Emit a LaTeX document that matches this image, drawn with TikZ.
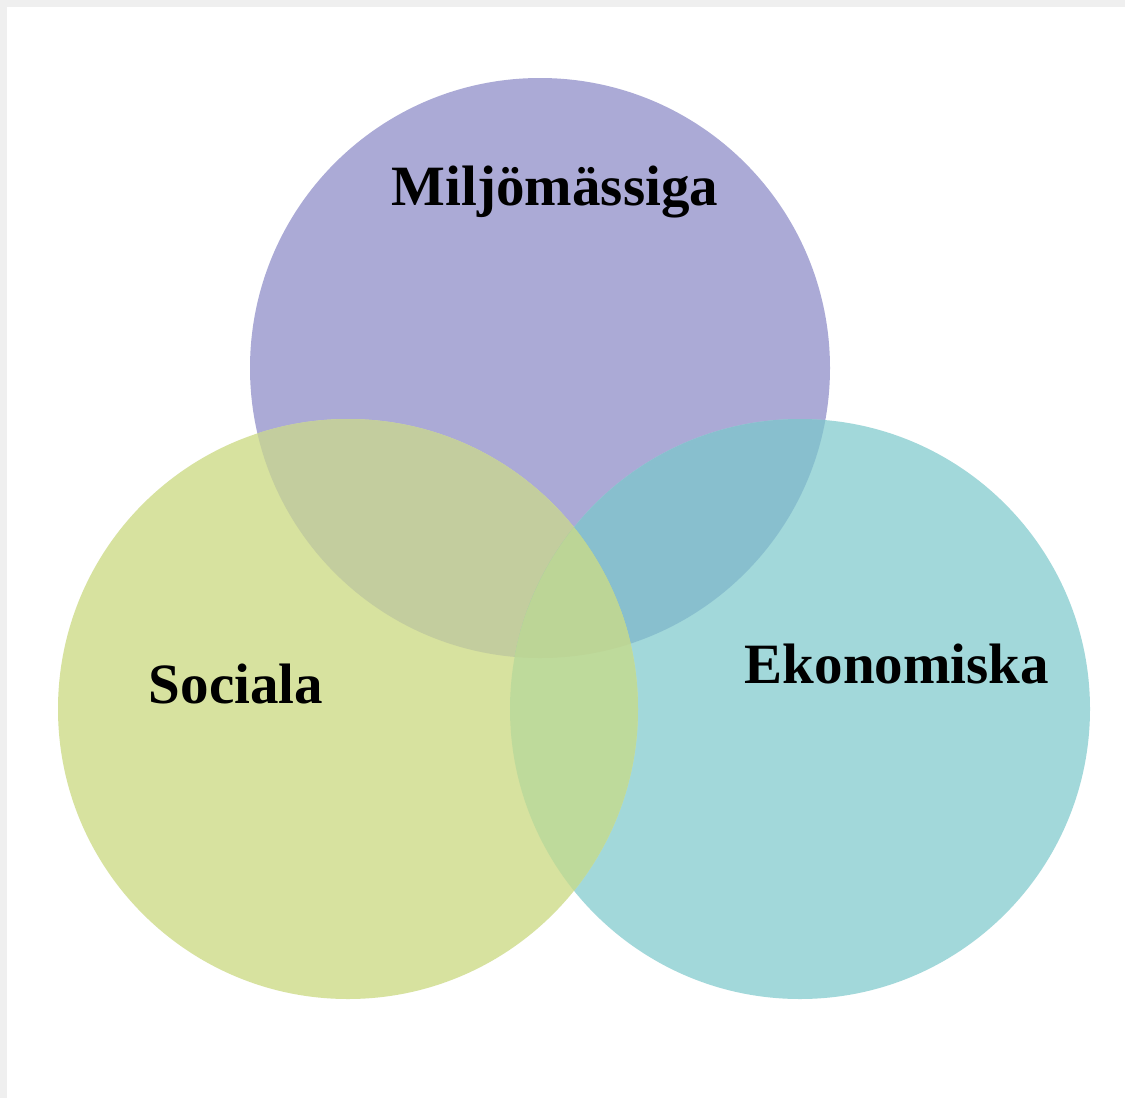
\documentclass[tikz,border=0pt]{standalone}
\usepackage{fontspec}
\setmainfont{Liberation Serif}
\definecolor{frame}{HTML}{EFEFEF}
\definecolor{cP}{HTML}{ABAAD6}
\definecolor{cG}{HTML}{D7E29F}
\definecolor{cT}{HTML}{A2D8DA}
\definecolor{cPG}{HTML}{C3CD9E}
\definecolor{cPT}{HTML}{88BFCE}
\definecolor{cGT}{HTML}{BEDA9B}
\definecolor{cPGT}{HTML}{BCD596}
\tikzset{lbl/.style={anchor=base, text=black, font=\fontsize{28.5pt}{30pt}\selectfont\bfseries, inner sep=0pt}}
\begin{document}
\begin{tikzpicture}[x=0.5pt,y=-0.5pt]
\useasboundingbox (0,0) rectangle (1125,1098);
\fill[white] (0,0) rectangle (1125,1098);
\fill[frame] (0,0) rectangle (7,1098);
\fill[frame] (0,0) rectangle (1125,7);
\coordinate (cp) at (540,368);
\coordinate (cg) at (348,709);
\coordinate (ct) at (800,709);
\def\R{290}
\fill[cP] (cp) circle[radius=\R];
\fill[cT] (ct) circle[radius=\R];
\fill[cG] (cg) circle[radius=\R];
\begin{scope}
\clip (cp) circle[radius=\R];
\fill[cPG] (cg) circle[radius=\R];
\fill[cPT] (ct) circle[radius=\R];
\clip (cg) circle[radius=\R];
\fill[cPGT] (ct) circle[radius=\R];
\end{scope}
\begin{scope}
\clip (cg) circle[radius=\R];
\clip (ct) circle[radius=\R];
\fill[cGT] (cg) ++(-400,-100) rectangle ++(1000,1000);
\clip (cp) circle[radius=\R];
\fill[cPGT] (cg) ++(-400,-400) rectangle ++(1000,1000);
\end{scope}
\node[lbl] (m) at (555,205) {Miljömässiga};
\node[lbl] (s) at (236,703) {Sociala};
\node[lbl] (e) at (897,683) {Ekonomiska};
\end{tikzpicture}
\end{document}
